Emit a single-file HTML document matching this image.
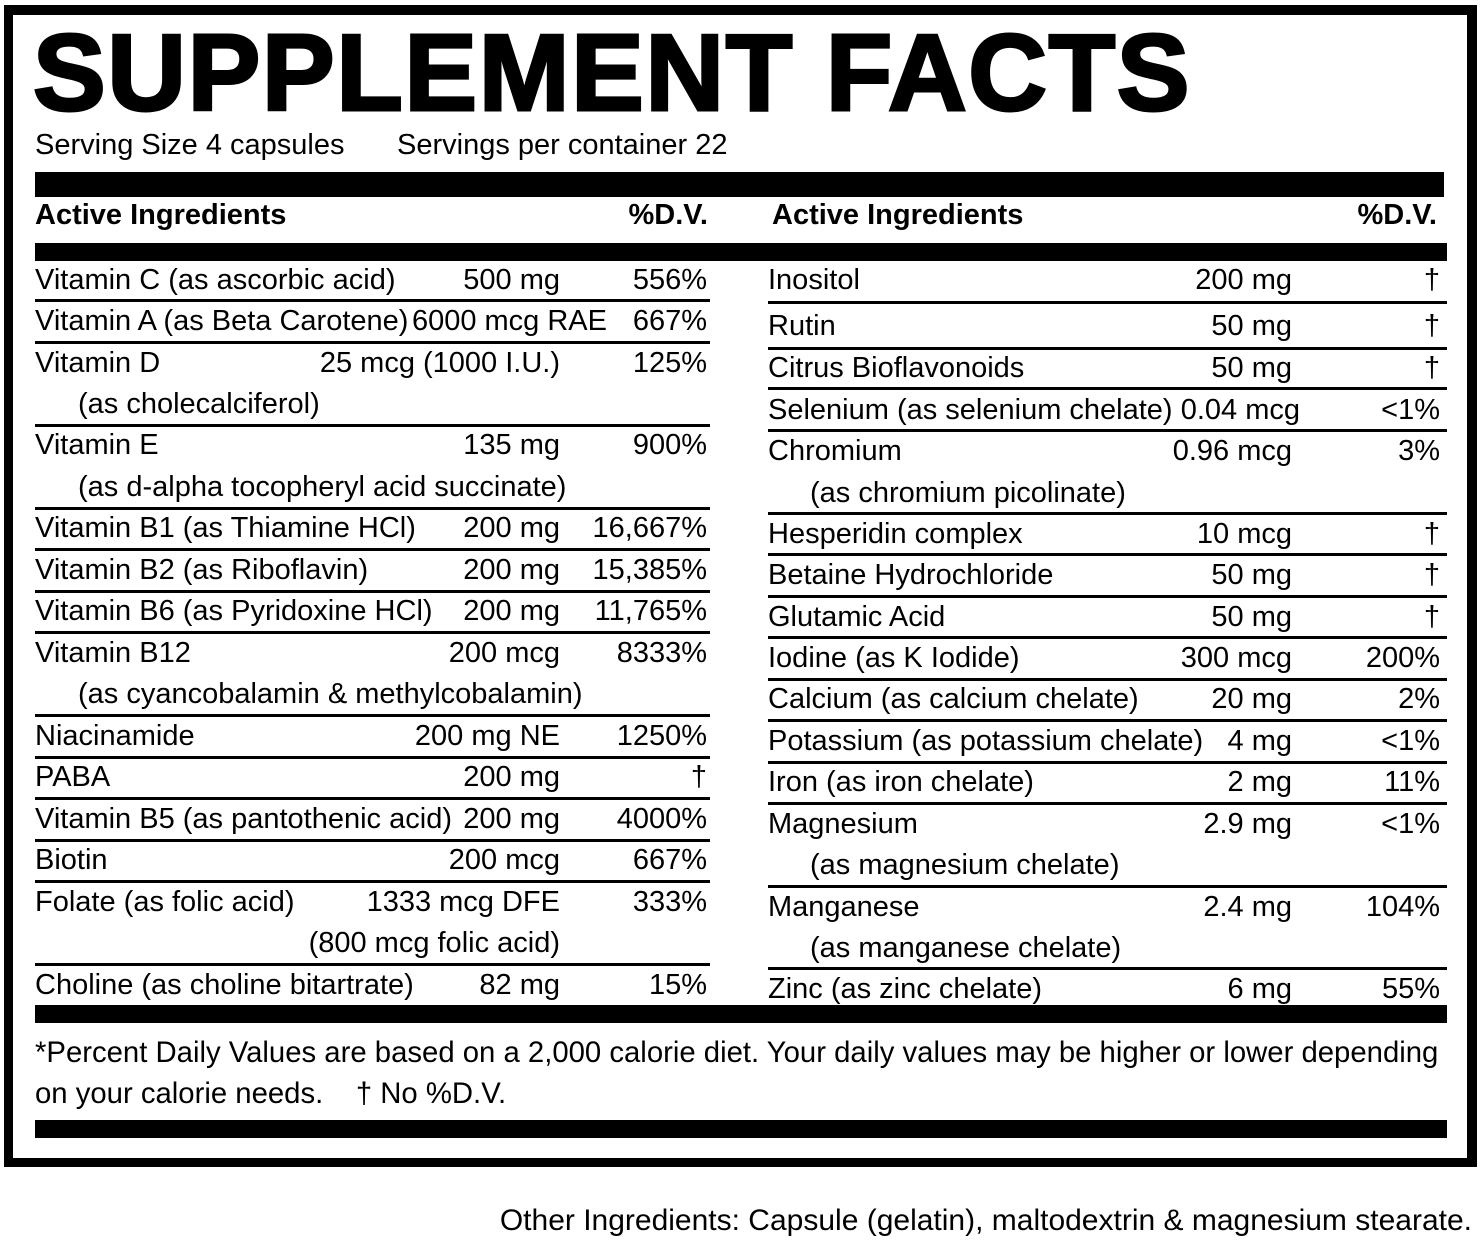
<!DOCTYPE html>
<html><head><meta charset="utf-8"><style>
html,body{margin:0;padding:0;background:#fff;}
body{width:1480px;height:1250px;position:relative;overflow:hidden;font-family:"Liberation Sans",sans-serif;color:#000;}
.b{position:absolute;background:#000;}
.t{position:absolute;height:40px;line-height:40px;font-size:29px;white-space:nowrap;}
.r{text-align:right;}
.h{font-weight:bold;}
</style></head><body>
<div class="b" style="left:4px;top:5px;width:1473px;height:10px"></div>
<div class="b" style="left:4px;top:5px;width:9px;height:1162px"></div>
<div class="b" style="left:1467px;top:5px;width:10px;height:1162px"></div>
<div class="b" style="left:4px;top:1158px;width:1473px;height:9px"></div>

<div style="position:absolute;left:33px;top:13px;font-size:109px;line-height:120px;font-weight:bold;letter-spacing:1.6px;-webkit-text-stroke:3px #000;white-space:nowrap">SUPPLEMENT FACTS</div>
<div class="t" style="left:35px;top:125px">Serving Size 4 capsules</div>
<div class="t" style="left:397px;top:125px">Servings per container 22</div>

<div class="b" style="left:35px;top:172px;width:1409px;height:25px"></div>
<div class="t h" style="left:35px;top:195px">Active Ingredients</div>
<div class="t h r" style="right:772px;top:195px">%D.V.</div>
<div class="t h" style="left:772px;top:195px">Active Ingredients</div>
<div class="t h r" style="right:43px;top:195px">%D.V.</div>
<div class="b" style="left:35px;top:243px;width:1412px;height:18px"></div>

<!-- left lines -->
<div class="b" style="left:35px;top:299px;width:675px;height:3px"></div>
<div class="b" style="left:35px;top:341px;width:675px;height:3px"></div>
<div class="b" style="left:35px;top:424px;width:675px;height:3px"></div>
<div class="b" style="left:35px;top:507px;width:675px;height:3px"></div>
<div class="b" style="left:35px;top:548px;width:675px;height:3px"></div>
<div class="b" style="left:35px;top:590px;width:675px;height:3px"></div>
<div class="b" style="left:35px;top:631px;width:675px;height:3px"></div>
<div class="b" style="left:35px;top:714px;width:675px;height:3px"></div>
<div class="b" style="left:35px;top:756px;width:675px;height:3px"></div>
<div class="b" style="left:35px;top:797px;width:675px;height:3px"></div>
<div class="b" style="left:35px;top:839px;width:675px;height:3px"></div>
<div class="b" style="left:35px;top:880px;width:675px;height:3px"></div>
<div class="b" style="left:35px;top:963px;width:675px;height:3px"></div>

<!-- right lines -->
<div class="b" style="left:768px;top:301px;width:679px;height:3px"></div>
<div class="b" style="left:768px;top:347px;width:679px;height:3px"></div>
<div class="b" style="left:768px;top:387px;width:679px;height:3px"></div>
<div class="b" style="left:768px;top:429px;width:679px;height:3px"></div>
<div class="b" style="left:768px;top:512px;width:679px;height:3px"></div>
<div class="b" style="left:768px;top:553px;width:679px;height:3px"></div>
<div class="b" style="left:768px;top:595px;width:679px;height:3px"></div>
<div class="b" style="left:768px;top:636px;width:679px;height:3px"></div>
<div class="b" style="left:768px;top:678px;width:679px;height:3px"></div>
<div class="b" style="left:768px;top:719px;width:679px;height:3px"></div>
<div class="b" style="left:768px;top:761px;width:679px;height:3px"></div>
<div class="b" style="left:768px;top:802px;width:679px;height:3px"></div>
<div class="b" style="left:768px;top:885px;width:679px;height:3px"></div>
<div class="b" style="left:768px;top:967px;width:679px;height:3px"></div>

<!-- left text -->
<div class="t" style="left:35px;top:260px">Vitamin C (as ascorbic acid)</div><div class="t r" style="right:920px;top:260px">500 mg</div><div class="t r" style="right:773px;top:260px">556%</div>
<div class="t" style="left:35px;top:301px">Vitamin A (as Beta Carotene)</div><div class="t r" style="right:873px;top:301px">6000 mcg RAE</div><div class="t r" style="right:773px;top:301px">667%</div>
<div class="t" style="left:35px;top:343px">Vitamin D</div><div class="t r" style="right:920px;top:343px">25 mcg (1000 I.U.)</div><div class="t r" style="right:773px;top:343px">125%</div>
<div class="t" style="left:78px;top:384px">(as cholecalciferol)</div>
<div class="t" style="left:35px;top:425px">Vitamin E</div><div class="t r" style="right:920px;top:425px">135 mg</div><div class="t r" style="right:773px;top:425px">900%</div>
<div class="t" style="left:78px;top:467px">(as d-alpha tocopheryl acid succinate)</div>
<div class="t" style="left:35px;top:508px">Vitamin B1 (as Thiamine HCl)</div><div class="t r" style="right:920px;top:508px">200 mg</div><div class="t r" style="right:773px;top:508px">16,667%</div>
<div class="t" style="left:35px;top:550px">Vitamin B2 (as Riboflavin)</div><div class="t r" style="right:920px;top:550px">200 mg</div><div class="t r" style="right:773px;top:550px">15,385%</div>
<div class="t" style="left:35px;top:591px">Vitamin B6 (as Pyridoxine HCl)</div><div class="t r" style="right:920px;top:591px">200 mg</div><div class="t r" style="right:773px;top:591px">11,765%</div>
<div class="t" style="left:35px;top:633px">Vitamin B12</div><div class="t r" style="right:920px;top:633px">200 mcg</div><div class="t r" style="right:773px;top:633px">8333%</div>
<div class="t" style="left:78px;top:674px">(as cyancobalamin &amp; methylcobalamin)</div>
<div class="t" style="left:35px;top:716px">Niacinamide</div><div class="t r" style="right:920px;top:716px">200 mg NE</div><div class="t r" style="right:773px;top:716px">1250%</div>
<div class="t" style="left:35px;top:757px">PABA</div><div class="t r" style="right:920px;top:757px">200 mg</div><div class="t r" style="right:773px;top:757px">†</div>
<div class="t" style="left:35px;top:799px">Vitamin B5 (as pantothenic acid)</div><div class="t r" style="right:920px;top:799px">200 mg</div><div class="t r" style="right:773px;top:799px">4000%</div>
<div class="t" style="left:35px;top:840px">Biotin</div><div class="t r" style="right:920px;top:840px">200 mcg</div><div class="t r" style="right:773px;top:840px">667%</div>
<div class="t" style="left:35px;top:882px">Folate (as folic acid)</div><div class="t r" style="right:920px;top:882px">1333 mcg DFE</div><div class="t r" style="right:773px;top:882px">333%</div>
<div class="t r" style="right:920px;top:923px">(800 mcg folic acid)</div>
<div class="t" style="left:35px;top:965px">Choline (as choline bitartrate)</div><div class="t r" style="right:920px;top:965px">82 mg</div><div class="t r" style="right:773px;top:965px">15%</div>

<!-- right text -->
<div class="t" style="left:768px;top:260px">Inositol</div><div class="t r" style="right:188px;top:260px">200 mg</div><div class="t r" style="right:40px;top:260px">†</div>
<div class="t" style="left:768px;top:306px">Rutin</div><div class="t r" style="right:188px;top:306px">50 mg</div><div class="t r" style="right:40px;top:306px">†</div>
<div class="t" style="left:768px;top:348px">Citrus Bioflavonoids</div><div class="t r" style="right:188px;top:348px">50 mg</div><div class="t r" style="right:40px;top:348px">†</div>
<div class="t" style="left:768px;top:390px">Selenium (as selenium chelate)</div><div class="t r" style="right:180px;top:390px">0.04 mcg</div><div class="t r" style="right:40px;top:390px">&lt;1%</div>
<div class="t" style="left:768px;top:431px">Chromium</div><div class="t r" style="right:188px;top:431px">0.96 mcg</div><div class="t r" style="right:40px;top:431px">3%</div>
<div class="t" style="left:810px;top:473px">(as chromium picolinate)</div>
<div class="t" style="left:768px;top:514px">Hesperidin complex</div><div class="t r" style="right:188px;top:514px">10 mcg</div><div class="t r" style="right:40px;top:514px">†</div>
<div class="t" style="left:768px;top:555px">Betaine Hydrochloride</div><div class="t r" style="right:188px;top:555px">50 mg</div><div class="t r" style="right:40px;top:555px">†</div>
<div class="t" style="left:768px;top:597px">Glutamic Acid</div><div class="t r" style="right:188px;top:597px">50 mg</div><div class="t r" style="right:40px;top:597px">†</div>
<div class="t" style="left:768px;top:638px">Iodine (as K Iodide)</div><div class="t r" style="right:188px;top:638px">300 mcg</div><div class="t r" style="right:40px;top:638px">200%</div>
<div class="t" style="left:768px;top:679px">Calcium (as calcium chelate)</div><div class="t r" style="right:188px;top:679px">20 mg</div><div class="t r" style="right:40px;top:679px">2%</div>
<div class="t" style="left:768px;top:721px">Potassium (as potassium chelate)</div><div class="t r" style="right:188px;top:721px">4 mg</div><div class="t r" style="right:40px;top:721px">&lt;1%</div>
<div class="t" style="left:768px;top:762px">Iron (as iron chelate)</div><div class="t r" style="right:188px;top:762px">2 mg</div><div class="t r" style="right:40px;top:762px">11%</div>
<div class="t" style="left:768px;top:804px">Magnesium</div><div class="t r" style="right:188px;top:804px">2.9 mg</div><div class="t r" style="right:40px;top:804px">&lt;1%</div>
<div class="t" style="left:810px;top:845px">(as magnesium chelate)</div>
<div class="t" style="left:768px;top:887px">Manganese</div><div class="t r" style="right:188px;top:887px">2.4 mg</div><div class="t r" style="right:40px;top:887px">104%</div>
<div class="t" style="left:810px;top:928px">(as manganese chelate)</div>
<div class="t" style="left:768px;top:969px">Zinc (as zinc chelate)</div><div class="t r" style="right:188px;top:969px">6 mg</div><div class="t r" style="right:40px;top:969px">55%</div>

<div class="b" style="left:35px;top:1005px;width:1412px;height:18px"></div>
<div class="t" style="left:35px;top:1033px;font-size:29.3px">*Percent Daily Values are based on a 2,000 calorie diet. Your daily values may be higher or lower depending</div>
<div class="t" style="left:35px;top:1074px;font-size:29.3px">on your calorie needs.&nbsp;&nbsp;&nbsp;&nbsp;† No %D.V.</div>
<div class="b" style="left:35px;top:1120px;width:1412px;height:18px"></div>

<div class="t r" style="right:8px;top:1201px;font-size:30px">Other Ingredients: Capsule (gelatin), maltodextrin &amp; magnesium stearate.</div>
</body></html>
